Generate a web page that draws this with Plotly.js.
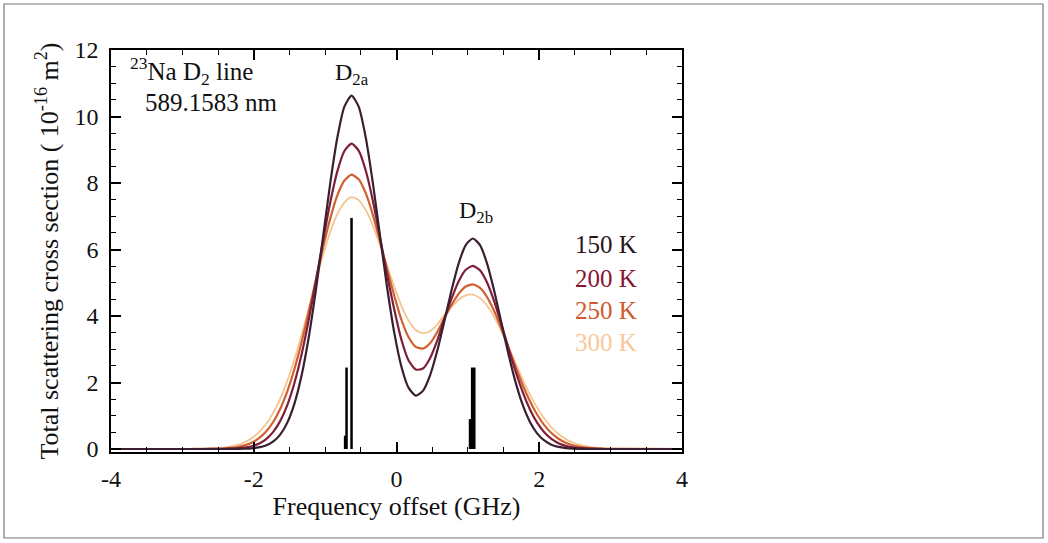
<!DOCTYPE html>
<html>
<head>
<meta charset="utf-8">
<script src="https://cdn.plot.ly/plotly-3.0.1.min.js"></script>
<style>
  html, body { margin: 0; padding: 0; background: #fff; }
  #chart { width: 1048px; height: 543px; }
</style>
</head>
<body>
<div id="chart"></div>
<script>
// Frequency offset grid (GHz)
const freq = [-4,
  -2.93,-2.83,-2.73,-2.63,-2.53,-2.43,-2.33,-2.23,-2.13,-2.03,
  -1.93,-1.83,-1.73,-1.63,-1.53,-1.43,-1.33,-1.23,-1.13,-1.03,
  -0.93,-0.83,-0.73,-0.63,-0.53,-0.43,-0.33,-0.23,-0.13,-0.03,
  0.07,0.17,0.27,0.37,0.47,0.57,0.67,0.77,0.87,0.97,
  1.07,1.17,1.27,1.37,1.47,1.57,1.67,1.77,1.87,1.97,
  2.07,2.17,2.27,2.37,2.47,2.57,2.67,2.77,2.87,2.97,3.07,
  4];

// Total scattering cross section (1e-16 m^2)
const sigma150 = [0,
  0,0,0,0,0,0,0.001,0.003,0.008,0.020,
  0.047,0.105,0.220,0.432,0.793,1.367,2.211,3.354,4.771,6.366,
  7.967,9.351,10.295,10.63,10.297,9.356,7.979,6.394,4.834,3.485,
  2.468,1.839,1.607,1.749,2.217,2.946,3.838,4.764,5.577,6.134,
  6.331,6.131,5.569,4.744,3.791,2.841,1.997,1.317,0.814,0.472,
  0.257,0.131,0.063,0.028,0.012,0.005,0.002,0.001,0,0,0,
  0];
const sigma200 = [0,
  0,0,0,0.001,0.002,0.004,0.009,0.020,0.042,0.084,
  0.161,0.292,0.507,0.838,1.320,1.984,2.840,3.878,5.045,6.259,
  7.401,8.342,8.962,9.185,8.974,8.367,7.451,6.355,5.220,4.182,
  3.28,2.66,2.39,2.42,2.73,3.26,3.911,4.518,5.040,5.390,
  5.509,5.374,5.000,4.434,3.750,3.023,2.323,1.702,1.189,0.791,
  0.502,0.304,0.175,0.096,0.050,0.025,0.012,0.005,0.002,0,0,
  0];
const sigma250 = [0,
  0,0.001,0.002,0.004,0.008,0.016,0.032,0.060,0.109,0.190,
  0.319,0.517,0.804,1.204,1.735,2.405,3.209,4.120,5.089,6.051,
  6.922,7.621,8.074,8.249,8.110,7.686,7.036,6.242,5.398,4.601,
  3.88,3.36,3.07,3.02,3.18,3.51,3.936,4.328,4.665,4.887,
  4.952,4.843,4.564,4.142,3.619,3.044,2.463,1.918,1.438,1.037,
  0.720,0.481,0.309,0.191,0.114,0.065,0.036,0.019,0.010,0.005,0.002,
  0];
const sigma300 = [0,
  0.002,0.003,0.006,0.012,0.023,0.041,0.073,0.123,0.203,0.324,
  0.499,0.745,1.078,1.511,2.050,2.694,3.428,4.224,5.040,5.824,
  6.516,7.062,7.410,7.574,7.485,7.185,6.713,6.127,5.492,4.878,
  4.30,3.86,3.58,3.48,3.55,3.74,4.033,4.279,4.489,4.620,
  4.643,4.538,4.309,3.967,3.540,3.062,2.566,2.081,1.635,1.244,
  0.917,0.654,0.452,0.303,0.197,0.123,0.075,0.044,0.025,0.014,0.007,
  0];

// Hyperfine components (stick spectrum)
const stickFreq = [-0.72, -0.70, -0.63, 1.03, 1.06, 1.09];
const stickHeight = [0.4, 2.45, 6.95, 0.9, 2.45, 2.45];

// Temperatures
const tempLabels = ['150 K', '200 K', '250 K', '300 K'];
const tempColors = ['#3a1f33', '#7e1e38', '#d0602f', '#f6c48f'];
const tempTextColors = ['#2a1420', '#8a1430', '#d0582c', '#f7c898'];
const tempSeries = [sigma150, sigma200, sigma250, sigma300];
const tempWidths = [2.2, 2.2, 2.2, 1.8];

const tickVals = [-4, -2, 0, 2, 4];
const tickText = ['-4', '-2', '0', '2', '4'];
const yTickVals = [0, 2, 4, 6, 8, 10, 12];

const FONT = 'Liberation Serif, DejaVu Serif, serif';

const traces = [];
for (let i = tempSeries.length - 1; i >= 0; i--) {
  traces.push({
    x: freq, y: tempSeries[i], type: 'scatter', mode: 'lines',
    line: {color: tempColors[i], width: tempWidths[i], shape: 'spline', smoothing: 0.6},
    name: tempLabels[i], hoverinfo: 'skip'
  });
}
// sticks
const sx = [], sy = [];
stickFreq.forEach((f, i) => { sx.push(f, f, null); sy.push(0, stickHeight[i], null); });
traces.push({x: sx, y: sy, type: 'scatter', mode: 'lines',
  line: {color: '#000', width: 2.5}, name: 'components', hoverinfo: 'skip'});

const annotations = [
  {x: -3.76, y: 11.37, xref: 'x', yref: 'y', xanchor: 'left', yanchor: 'middle',
   text: '<sup>23</sup>Na D<sub>2</sub> line', showarrow: false,
   font: {family: FONT, size: 25, color: '#111'}},
  {x: -3.55, y: 10.41, xref: 'x', yref: 'y', xanchor: 'left', yanchor: 'middle',
   text: '589.1583 nm', showarrow: false,
   font: {family: FONT, size: 25, color: '#111'}},
  {x: -0.89, y: 11.28, xref: 'x', yref: 'y', xanchor: 'left', yanchor: 'middle',
   text: 'D<sub>2a</sub>', showarrow: false,
   font: {family: FONT, size: 24, color: '#111'}},
  {x: 0.848, y: 7.13, xref: 'x', yref: 'y', xanchor: 'left', yanchor: 'middle',
   text: 'D<sub>2b</sub>', showarrow: false,
   font: {family: FONT, size: 24, color: '#111'}}
];
const legendY = [6.14, 5.14, 4.18, 3.19];
tempLabels.forEach((t, i) => {
  annotations.push({x: 2.47, y: legendY[i], xref: 'x', yref: 'y', xanchor: 'left', yanchor: 'middle',
    text: t, showarrow: false, font: {family: FONT, size: 25, color: tempTextColors[i]}});
});

const axisCommon = {
  showline: true, linecolor: '#000', linewidth: 1.5, mirror: 'allticks',
  ticks: 'inside', ticklen: 10, tickwidth: 1.5, tickcolor: '#000',
  showgrid: false, zeroline: false,
  tickfont: {family: FONT, size: 24, color: '#111'}
};

const layout = {
  width: 1048, height: 543,
  margin: {l: 111, r: 366, t: 50, b: 91, pad: 0},
  paper_bgcolor: '#fff', plot_bgcolor: '#fff',
  showlegend: false,
  font: {family: FONT, color: '#111'},
  xaxis: Object.assign({}, axisCommon, {
    range: [-4, 4], tickvals: tickVals, ticktext: tickText,
    minor: {dtick: 0.5, ticks: 'inside', ticklen: 5, tickwidth: 1.2, tickcolor: '#000'},
    title: {text: 'Frequency offset (GHz)', font: {family: FONT, size: 26, color: '#111'}, standoff: 6},
    ticklabelstandoff: 4
  }),
  yaxis: Object.assign({}, axisCommon, {
    range: [-0.09, 12], tickvals: yTickVals,
    minor: {dtick: 0.5, ticks: 'inside', ticklen: 5, tickwidth: 1.2, tickcolor: '#000'},
    title: {text: 'Total scattering cross section ( 10<sup>-16</sup> m<sup>2</sup>)',
            font: {family: FONT, size: 26, color: '#111'}, standoff: 8},
    ticklabelstandoff: 6
  }),
  annotations: annotations,
  shapes: [{type: 'rect', xref: 'paper', yref: 'paper',
    x0: (4 - 111) / 571, x1: (1043 - 111) / 571,
    y0: (452 - 538) / 402, y1: (452 - 4) / 402,
    line: {color: '#777', width: 1.2}, fillcolor: 'rgba(0,0,0,0)', layer: 'below'}]
};

Plotly.newPlot('chart', traces, layout, {displayModeBar: false});
</script>
</body>
</html>
